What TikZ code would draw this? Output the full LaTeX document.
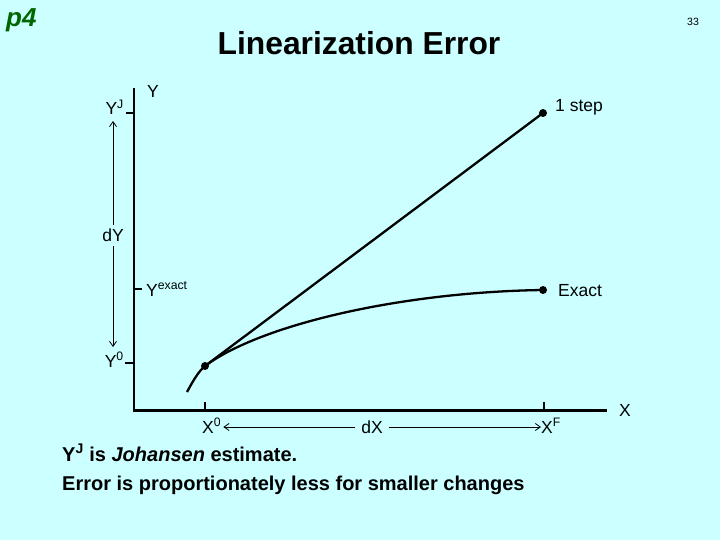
\documentclass[tikz,border=0pt]{standalone}
\usepackage{fontspec}
\setmainfont{Liberation Sans}
\usetikzlibrary{arrows.meta}
\definecolor{slidebg}{RGB}{204,255,255}
\definecolor{pagegreen}{RGB}{0,102,0}

\begin{document}
\begin{tikzpicture}[x=1pt,y=-1pt,
    axis/.style={line width=2.8pt},
    tick/.style={line width=2.8pt},
    graph/.style={line width=2.3pt},
    dim/.style={line width=0.8pt,-{Straight Barb[length=5pt,width=7pt]}},
    lbl/.style={inner sep=0pt,font=\fontsize{17.5}{20}\selectfont},
    dot/.style={circle,fill,inner sep=0pt,minimum size=8pt}]
        \fill[slidebg] (0,0) rectangle (720,540);

        \node[inner sep=0pt,anchor=base west,text=pagegreen,font=\bfseries\itshape\fontsize{26}{30}\selectfont] (pnum) at (6,27) {p4};
        \node[inner sep=0pt,anchor=base west,font=\fontsize{10.5}{12}\selectfont] (pg) at (687,26) {33};
        \node[inner sep=0pt,font=\bfseries\fontsize{31.8}{38}\selectfont] (title) at (359,43.5) {Linearization Error};

        % axes and ticks
        \coordinate (O) at (134,410.5);
        \coordinate (ytop) at (134,88);
        \coordinate (xend) at (607,410.5);
        \draw[axis] (ytop) -- (O) -- (xend);
        \draw[tick] (126,113) -- (134,113);
        \draw[tick] (134,289) -- (142,289);
        \draw[tick] (125,363) -- (134,363);
        \draw[tick] (205,402) -- (205,410);
        \draw[tick] (544,402) -- (544,410);

        % labels
        \node[lbl,anchor=base west] (ylab) at (147,98) {Y};
        \node[lbl,anchor=base east] (yj) at (124,115) {Y\textsuperscript{J}};
        \node[lbl] (dy) at (113,235.5) {dY};
        \node[lbl,anchor=base west] (yex) at (146,296) {Y\textsuperscript{exact}};
        \node[lbl,anchor=base east] (y0) at (124,367) {Y\textsuperscript{0}};
        \node[lbl,anchor=base west] (x0) at (202,433) {X\textsuperscript{0}};
        \node[lbl] (dx) at (372,427) {dX};
        \node[lbl,anchor=base west] (xf) at (541,433) {X\textsuperscript{F}};
        \node[lbl] (xlab) at (625,410.5) {X};
        \node[lbl,anchor=base west] (step) at (555,112) {1 step};
        \node[lbl,anchor=base west] (exact) at (558,296) {Exact};

        \coordinate (dytop) at (113,121);
        \coordinate (dybot) at (113,347);
        \draw[dim,shorten <=4pt] (dy.north) -- (dytop);
        \draw[dim,shorten <=4pt] (dy.south) -- (dybot);
        \draw[dim,shorten <=6pt,shorten >=2pt] (dx.west) -- (x0.east |- dx.west);
        \draw[dim,shorten <=6pt] (dx.east) -- (xf.west |- dx.east);

        % one step and exact paths
        \node[dot] (p0) at (205,366) {};
        \node[dot] (pstep) at (543,113) {};
        \node[dot] (pexact) at (543,290) {};
        \draw[graph] (p0.center) -- (pstep.center);
        \draw[graph] (187,392) .. controls (193,381) and (198,372) .. (p0.center)
            .. controls (260,325) and (400,292) .. (pexact.center);

        \node[inner sep=0pt,anchor=base west,font=\bfseries\fontsize{20}{24}\selectfont] (note1) at (62,461) {Y\textsuperscript{J} is \textit{Johansen} estimate.};
        \node[inner sep=0pt,anchor=base west,font=\bfseries\fontsize{20}{24}\selectfont] (note2) at (62,490) {Error is proportionately less for smaller changes};
\end{tikzpicture}
\end{document}
